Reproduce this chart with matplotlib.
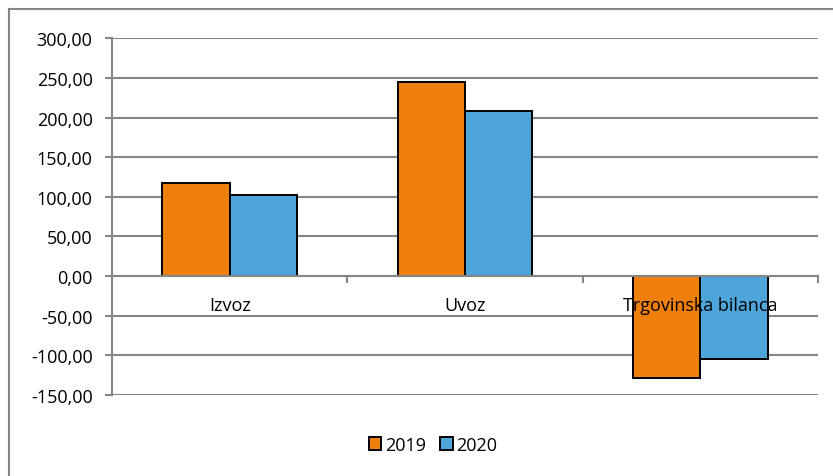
import matplotlib
matplotlib.use('Agg')
import matplotlib.pyplot as plt
from matplotlib.lines import Line2D
import numpy as np

kategorije = ["Izvoz", "Uvoz", "Trgovinska bilanca"]
godine = ["2019", "2020"]
vrijednosti_2019 = [117.3, 245.5, -128.7]
vrijednosti_2020 = [102.6, 207.7, -104.7]
y_oznake = [-150, -100, -50, 0, 50, 100, 150, 200, 250, 300]

boje = ["#EF7F0B", "#4EA5DA"]
siva = "#868686"

plt.rcParams['font.family'] = ['Open Sans', 'DejaVu Sans']

fig = plt.figure(figsize=(8.33, 4.77), dpi=100)
ax = fig.add_axes([0.1345, 0.1698, 0.8475, 0.7478])

x = np.arange(len(kategorije))
sirina = 0.2857
for i, (vals, boja) in enumerate(zip([vrijednosti_2019, vrijednosti_2020], boje)):
    ax.bar(x + (i - 0.5) * sirina, vals, sirina, color=boja, edgecolor='black',
           linewidth=1.4, label=godine[i], zorder=3)

ax.set_xlim(-0.5, len(kategorije) - 0.5)
ax.set_ylim(-150, 300)
ax.set_yticks(y_oznake)
ax.set_yticklabels([f"{v:.2f}".replace('.', ',') for v in y_oznake], fontsize=13)
ax.yaxis.grid(True, color=siva, linewidth=1.5, zorder=0)
ax.set_axisbelow(True)

for s in ['top', 'right']:
    ax.spines[s].set_visible(False)
ax.spines['left'].set_color(siva)
ax.spines['left'].set_linewidth(1.5)
ax.spines['bottom'].set_position(('data', 0))
ax.spines['bottom'].set_color(siva)
ax.spines['bottom'].set_linewidth(1.5)
ax.spines['bottom'].set_zorder(4)

ax.tick_params(axis='y', length=5, width=1.5, color=siva, pad=9)
ax.set_xticks(x)
ax.set_xticklabels(kategorije, fontsize=13)
ax.tick_params(axis='x', which='major', length=0, pad=14)
# granice kategorija (kvačice ispod nulte linije)
ax.set_xticks(np.arange(0.5, len(kategorije)), minor=True)
ax.tick_params(axis='x', which='minor', length=5, width=1.5, color=siva, direction='in')
for t in ax.xaxis.get_minor_ticks():
    t.tick1line.set_marker(3)
ax.xaxis.set_zorder(5)

fig.legend(loc='center', bbox_to_anchor=(433 / 833, 1 - 446 / 477), ncol=2,
           frameon=False, fontsize=13, handlelength=0.7, handleheight=0.7,
           handletextpad=0.2, columnspacing=0.8)

fig.add_artist(Line2D([9 / 833, 9 / 833], [0, 1 - 10 / 477], transform=fig.transFigure,
                      color=siva, linewidth=1.5))
fig.add_artist(Line2D([9 / 833, 1], [1 - 10 / 477, 1 - 10 / 477], transform=fig.transFigure,
                      color=siva, linewidth=1.5))

fig.savefig("out.png", dpi=100)
